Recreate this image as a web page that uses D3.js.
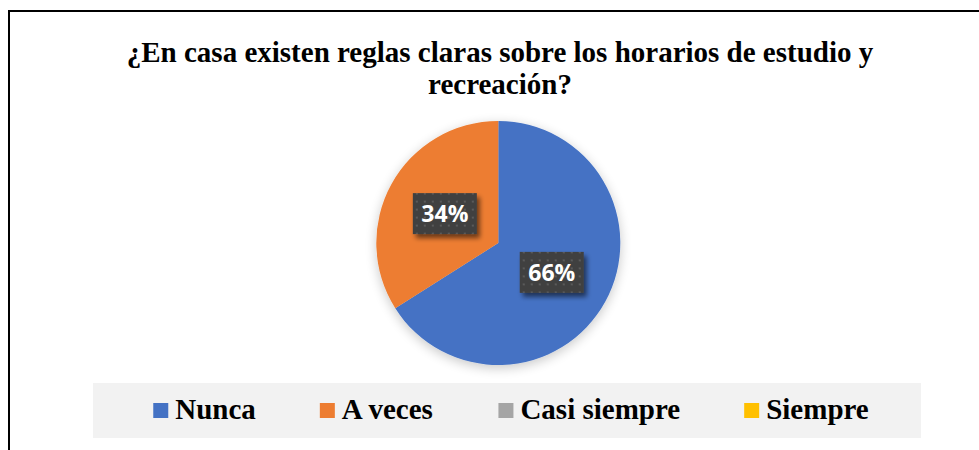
<!DOCTYPE html>
<html>
<head>
<meta charset="utf-8">
<script src="https://cdn.jsdelivr.net/npm/d3@7"></script>
</head>
<body style="margin:0">
<svg id="chart" width="979" height="450" style="display:block"></svg>
<script>
// chart data
const titleLines = ["¿En casa existen reglas claras sobre los horarios de estudio y", "recreación?"];
const categories = ["Nunca", "A veces", "Casi siempre", "Siempre"];
const values = [66, 34, 0, 0];
const colors = ["#4472c4", "#ed7d31", "#a5a5a5", "#ffc000"];

const cx = 498.3, cy = 243, radius = 122;

const svg = d3.select("#chart");

const defs = svg.append("defs");

// soft glow around the pie
const glow = defs.append("filter").attr("id", "pieShadow")
  .attr("x", "-30%").attr("y", "-30%").attr("width", "160%").attr("height", "160%");
glow.append("feGaussianBlur").attr("in", "SourceAlpha").attr("stdDeviation", 6).attr("result", "blur");
glow.append("feOffset").attr("dy", 3).attr("result", "off");
glow.append("feComponentTransfer").append("feFuncA").attr("type", "linear").attr("slope", 0.22);
const gm = glow.append("feMerge");
gm.append("feMergeNode");
gm.append("feMergeNode").attr("in", "SourceGraphic");

// shadow for label boxes
const boxShadow = defs.append("filter").attr("id", "boxShadow")
  .attr("x", "-30%").attr("y", "-30%").attr("width", "170%").attr("height", "180%");
boxShadow.append("feGaussianBlur").attr("in", "SourceAlpha").attr("stdDeviation", 2.5);
boxShadow.append("feOffset").attr("dx", 3).attr("dy", 4).attr("result", "off");
boxShadow.append("feComponentTransfer").append("feFuncA").attr("type", "linear").attr("slope", 0.55);
const bm = boxShadow.append("feMerge");
bm.append("feMergeNode");
bm.append("feMergeNode").attr("in", "SourceGraphic");

// dotted texture for label boxes
const pat = defs.append("pattern").attr("id", "dots")
  .attr("patternUnits", "userSpaceOnUse").attr("width", 8).attr("height", 8);
pat.append("rect").attr("width", 8).attr("height", 8).attr("fill", "#404040");
pat.append("rect").attr("x", 3).attr("y", 3).attr("width", 2).attr("height", 2).attr("fill", "#5a5a5a");

// outer border
svg.append("rect")
  .attr("x", 9).attr("y", 11)
  .attr("width", 1000).attr("height", 500)
  .attr("fill", "#fff")
  .attr("stroke", "#000")
  .attr("stroke-width", 2);

// title
svg.selectAll(".title")
  .data(titleLines)
  .join("text")
  .attr("class", "title")
  .attr("x", 500)
  .attr("y", (d, i) => 62 + i * 32)
  .attr("text-anchor", "middle")
  .style("font-family", '"Liberation Serif"')
  .style("font-weight", "bold")
  .style("font-size", "29px")
  .text(d => d);

// pie
const pie = d3.pie().sort(null).value(d => d.value);
const arcs = pie(categories.map((c, i) => ({ name: c, value: values[i], color: colors[i] })));
const arc = d3.arc().innerRadius(0).outerRadius(radius);

const g = svg.append("g").attr("transform", `translate(${cx},${cy})`);

g.append("g")
  .attr("filter", "url(#pieShadow)")
  .selectAll("path")
  .data(arcs.filter(d => d.data.value > 0))
  .join("path")
  .attr("d", arc)
  .attr("fill", d => d.data.color);

// data labels
const boxW = 64, boxH = 41;
const labels = g.selectAll(".lbl")
  .data(arcs.filter(d => d.data.value > 0))
  .join("g")
  .attr("class", "lbl")
  .attr("transform", d => `translate(${arc.centroid(d)})`);

labels.append("rect")
  .attr("x", -boxW / 2).attr("y", -boxH / 2)
  .attr("width", boxW).attr("height", boxH)
  .attr("fill", "url(#dots)")
  .attr("filter", "url(#boxShadow)");

labels.append("text")
  .attr("text-anchor", "middle")
  .attr("dy", "0.36em")
  .style("font-family", '"Open Sans"')
  .style("font-weight", "bold")
  .style("font-size", "23px")
  .attr("fill", "#fff")
  .text(d => d.data.value + "%");

// legend
svg.append("rect")
  .attr("x", 93).attr("y", 383)
  .attr("width", 828).attr("height", 55)
  .attr("fill", "#f2f2f2");

const legend = svg.append("g");
const items = legend.selectAll("g")
  .data(categories)
  .join("g");

items.append("rect")
  .attr("width", 15).attr("height", 15)
  .attr("y", 403)
  .attr("fill", (d, i) => colors[i]);

items.append("text")
  .attr("x", 22)
  .attr("y", 419)
  .style("font-family", '"Liberation Serif"')
  .style("font-weight", "bold")
  .style("font-size", "29px")
  .text(d => d);

// lay out legend items (text widths via canvas)
const ctx = document.createElement("canvas").getContext("2d");
ctx.font = 'bold 29px "Liberation Serif"';
const gap = 64;
const widths = categories.map(c => 22 + ctx.measureText(c).width);
const total = d3.sum(widths) + gap * (widths.length - 1);
let xpos = 511 - total / 2;
items.attr("transform", (d, i) => {
  const t = `translate(${xpos},0)`;
  xpos += widths[i] + gap;
  return t;
});
</script>
</body>
</html>
